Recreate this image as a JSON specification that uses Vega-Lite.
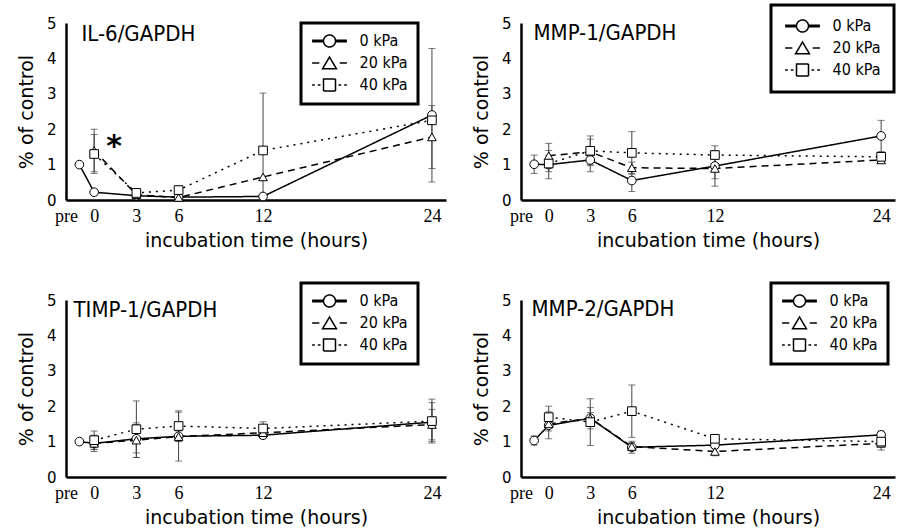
{
  "$schema": "https://vega.github.io/schema/vega-lite/v6.json",
  "background": "white",
  "padding": {"left": 17, "top": 3, "right": 0, "bottom": 0},
  "datasets": {
    "d": [
      {"panel": "IL-6/GAPDH", "series": "0 kPa", "t": -1.05, "mean": 1.0, "lo": 1.0, "hi": 1.0},
      {"panel": "IL-6/GAPDH", "series": "0 kPa", "t": 0, "mean": 0.22, "lo": 0.22, "hi": 0.22},
      {"panel": "IL-6/GAPDH", "series": "0 kPa", "t": 3, "mean": 0.12, "lo": 0.12, "hi": 0.12},
      {"panel": "IL-6/GAPDH", "series": "0 kPa", "t": 6, "mean": 0.08, "lo": 0.08, "hi": 0.08},
      {"panel": "IL-6/GAPDH", "series": "0 kPa", "t": 12, "mean": 0.1, "lo": 0.1, "hi": 0.1},
      {"panel": "IL-6/GAPDH", "series": "0 kPa", "t": 24, "mean": 2.4, "lo": 0.51, "hi": 4.28},
      {"panel": "IL-6/GAPDH", "series": "20 kPa", "t": 0, "mean": 1.4, "lo": 0.8, "hi": 2.0},
      {"panel": "IL-6/GAPDH", "series": "20 kPa", "t": 3, "mean": 0.15, "lo": 0.15, "hi": 0.15},
      {"panel": "IL-6/GAPDH", "series": "20 kPa", "t": 6, "mean": 0.07, "lo": 0.07, "hi": 0.07},
      {"panel": "IL-6/GAPDH", "series": "20 kPa", "t": 12, "mean": 0.65, "lo": 0.65, "hi": 0.65},
      {"panel": "IL-6/GAPDH", "series": "20 kPa", "t": 24, "mean": 1.78, "lo": 0.89, "hi": 2.67},
      {"panel": "IL-6/GAPDH", "series": "40 kPa", "t": 0, "mean": 1.3, "lo": 0.75, "hi": 1.85},
      {"panel": "IL-6/GAPDH", "series": "40 kPa", "t": 3, "mean": 0.2, "lo": 0.2, "hi": 0.2},
      {"panel": "IL-6/GAPDH", "series": "40 kPa", "t": 6, "mean": 0.28, "lo": 0.17, "hi": 0.39},
      {"panel": "IL-6/GAPDH", "series": "40 kPa", "t": 12, "mean": 1.4, "lo": 0.0, "hi": 3.02},
      {"panel": "IL-6/GAPDH", "series": "40 kPa", "t": 24, "mean": 2.25, "lo": 2.25, "hi": 2.25},

      {"panel": "MMP-1/GAPDH", "series": "0 kPa", "t": -1.05, "mean": 1.01, "lo": 0.75, "hi": 1.27},
      {"panel": "MMP-1/GAPDH", "series": "0 kPa", "t": 0, "mean": 1.0, "lo": 0.6, "hi": 1.4},
      {"panel": "MMP-1/GAPDH", "series": "0 kPa", "t": 3, "mean": 1.13, "lo": 0.8, "hi": 1.46},
      {"panel": "MMP-1/GAPDH", "series": "0 kPa", "t": 6, "mean": 0.55, "lo": 0.24, "hi": 0.86},
      {"panel": "MMP-1/GAPDH", "series": "0 kPa", "t": 12, "mean": 0.96, "lo": 0.6, "hi": 1.32},
      {"panel": "MMP-1/GAPDH", "series": "0 kPa", "t": 24, "mean": 1.81, "lo": 1.37, "hi": 2.25},
      {"panel": "MMP-1/GAPDH", "series": "20 kPa", "t": 0, "mean": 1.25, "lo": 0.9, "hi": 1.6},
      {"panel": "MMP-1/GAPDH", "series": "20 kPa", "t": 3, "mean": 1.36, "lo": 1.0, "hi": 1.72},
      {"panel": "MMP-1/GAPDH", "series": "20 kPa", "t": 6, "mean": 0.91, "lo": 0.75, "hi": 1.07},
      {"panel": "MMP-1/GAPDH", "series": "20 kPa", "t": 12, "mean": 0.89, "lo": 0.39, "hi": 1.39},
      {"panel": "MMP-1/GAPDH", "series": "20 kPa", "t": 24, "mean": 1.13, "lo": 1.06, "hi": 1.2},
      {"panel": "MMP-1/GAPDH", "series": "40 kPa", "t": 0, "mean": 1.03, "lo": 0.8, "hi": 1.26},
      {"panel": "MMP-1/GAPDH", "series": "40 kPa", "t": 3, "mean": 1.39, "lo": 0.97, "hi": 1.81},
      {"panel": "MMP-1/GAPDH", "series": "40 kPa", "t": 6, "mean": 1.33, "lo": 0.73, "hi": 1.93},
      {"panel": "MMP-1/GAPDH", "series": "40 kPa", "t": 12, "mean": 1.27, "lo": 1.01, "hi": 1.53},
      {"panel": "MMP-1/GAPDH", "series": "40 kPa", "t": 24, "mean": 1.22, "lo": 1.1, "hi": 1.34},

      {"panel": "TIMP-1/GAPDH", "series": "0 kPa", "t": -1.05, "mean": 1.0, "lo": 1.0, "hi": 1.0},
      {"panel": "TIMP-1/GAPDH", "series": "0 kPa", "t": 0, "mean": 0.95, "lo": 0.78, "hi": 1.12},
      {"panel": "TIMP-1/GAPDH", "series": "0 kPa", "t": 3, "mean": 1.08, "lo": 0.68, "hi": 1.48},
      {"panel": "TIMP-1/GAPDH", "series": "0 kPa", "t": 6, "mean": 1.15, "lo": 1.0, "hi": 1.3},
      {"panel": "TIMP-1/GAPDH", "series": "0 kPa", "t": 12, "mean": 1.18, "lo": 1.1, "hi": 1.26},
      {"panel": "TIMP-1/GAPDH", "series": "0 kPa", "t": 24, "mean": 1.55, "lo": 1.0, "hi": 2.1},
      {"panel": "TIMP-1/GAPDH", "series": "20 kPa", "t": 0, "mean": 0.95, "lo": 0.72, "hi": 1.18},
      {"panel": "TIMP-1/GAPDH", "series": "20 kPa", "t": 3, "mean": 1.04, "lo": 0.55, "hi": 1.53},
      {"panel": "TIMP-1/GAPDH", "series": "20 kPa", "t": 6, "mean": 1.14, "lo": 0.45, "hi": 1.83},
      {"panel": "TIMP-1/GAPDH", "series": "20 kPa", "t": 12, "mean": 1.25, "lo": 1.15, "hi": 1.35},
      {"panel": "TIMP-1/GAPDH", "series": "20 kPa", "t": 24, "mean": 1.48, "lo": 1.05, "hi": 1.91},
      {"panel": "TIMP-1/GAPDH", "series": "40 kPa", "t": 0, "mean": 1.04, "lo": 0.78, "hi": 1.3},
      {"panel": "TIMP-1/GAPDH", "series": "40 kPa", "t": 3, "mean": 1.35, "lo": 0.55, "hi": 2.15},
      {"panel": "TIMP-1/GAPDH", "series": "40 kPa", "t": 6, "mean": 1.44, "lo": 1.01, "hi": 1.87},
      {"panel": "TIMP-1/GAPDH", "series": "40 kPa", "t": 12, "mean": 1.37, "lo": 1.18, "hi": 1.56},
      {"panel": "TIMP-1/GAPDH", "series": "40 kPa", "t": 24, "mean": 1.58, "lo": 0.96, "hi": 2.2},

      {"panel": "MMP-2/GAPDH", "series": "0 kPa", "t": -1.05, "mean": 1.03, "lo": 0.9, "hi": 1.16},
      {"panel": "MMP-2/GAPDH", "series": "0 kPa", "t": 0, "mean": 1.46, "lo": 1.08, "hi": 1.84},
      {"panel": "MMP-2/GAPDH", "series": "0 kPa", "t": 3, "mean": 1.66, "lo": 1.36, "hi": 1.96},
      {"panel": "MMP-2/GAPDH", "series": "0 kPa", "t": 6, "mean": 0.84, "lo": 0.67, "hi": 1.01},
      {"panel": "MMP-2/GAPDH", "series": "0 kPa", "t": 12, "mean": 0.9, "lo": 0.8, "hi": 1.0},
      {"panel": "MMP-2/GAPDH", "series": "0 kPa", "t": 24, "mean": 1.19, "lo": 1.08, "hi": 1.3},
      {"panel": "MMP-2/GAPDH", "series": "20 kPa", "t": 0, "mean": 1.5, "lo": 1.3, "hi": 1.7},
      {"panel": "MMP-2/GAPDH", "series": "20 kPa", "t": 3, "mean": 1.66, "lo": 1.5, "hi": 1.82},
      {"panel": "MMP-2/GAPDH", "series": "20 kPa", "t": 6, "mean": 0.86, "lo": 0.75, "hi": 0.97},
      {"panel": "MMP-2/GAPDH", "series": "20 kPa", "t": 12, "mean": 0.72, "lo": 0.6, "hi": 0.84},
      {"panel": "MMP-2/GAPDH", "series": "20 kPa", "t": 24, "mean": 0.95, "lo": 0.85, "hi": 1.05},
      {"panel": "MMP-2/GAPDH", "series": "40 kPa", "t": 0, "mean": 1.69, "lo": 1.38, "hi": 2.0},
      {"panel": "MMP-2/GAPDH", "series": "40 kPa", "t": 3, "mean": 1.55, "lo": 0.89, "hi": 2.21},
      {"panel": "MMP-2/GAPDH", "series": "40 kPa", "t": 6, "mean": 1.86, "lo": 1.12, "hi": 2.6},
      {"panel": "MMP-2/GAPDH", "series": "40 kPa", "t": 12, "mean": 1.08, "lo": 1.0, "hi": 1.16},
      {"panel": "MMP-2/GAPDH", "series": "40 kPa", "t": 24, "mean": 1.0, "lo": 0.76, "hi": 1.24}
    ],
    "star": [
      {"panel": "IL-6/GAPDH", "t": 1.41, "y": 1.5, "label": "*"}
    ]
  },
  "config": {
    "view": {"stroke": null},
    "axis": {"ticks": false, "grid": false, "labelOverlap": false, "domainColor": "black", "domainWidth": 2.5, "labelColor": "black", "titleColor": "black", "titleFont": "DejaVu Sans", "titleFontSize": 19, "titleFontWeight": "normal"},
    "axisX": {"labelFont": "Liberation Serif", "labelFontSize": 18, "labelPadding": 7, "titlePadding": 6, "labelFlush": false},
    "axisY": {"labelFont": "DejaVu Sans", "labelFontSize": 15, "labelPadding": 10, "titlePadding": 10, "tickCount": 6},
    "legend": {"symbolSize": 144, "symbolStrokeWidth": 1.5, "symbolStrokeColor": "black", "symbolFillColor": "white", "labelFont": "DejaVu Sans Condensed", "labelFontSize": 16, "labelColor": "black", "padding": 10, "rowPadding": 4, "fillColor": "white", "strokeColor": "black", "symbolOffset": 10.5, "labelOffset": 22}
  },
  "columns": 2,
  "spacing": {"row": 31, "column": 26},
  "resolve": {"scale": {"x": "independent", "y": "independent", "strokeDash": "independent", "shape": "independent", "strokeWidth": "independent"}, "legend": {"strokeWidth": "independent"}},
  "concat": [
    {
      "width": 380, "height": 177,
      "resolve": {"axis": {"x": "independent"}},
      "layer": [
        {"data": {"name": "d"}, "transform": [{"filter": "datum.panel === 'IL-6/GAPDH'"}],
         "mark": {"type": "line", "color": "black"},
         "encoding": {
           "x": {"field": "t", "type": "quantitative", "title": "incubation time (hours)", "scale": {"domain": [-2, 25], "nice": false, "zero": false}, "axis": {"values": [-2, 0, 3, 6, 12, 24], "labelExpr": "datum.value == -2 ? 'pre' : datum.label"}},
           "y": {"field": "mean", "type": "quantitative", "title": "% of control", "scale": {"domain": [0, 5], "nice": false}, "axis": {"values": [0, 1, 2, 3, 4, 5], "tickCount": 6, "labelOverlap": false}},
           "strokeDash": {"field": "series", "type": "nominal", "scale": {"range": [[1, 0], [7, 5], [2, 5]]}, "legend": null},
           "strokeWidth": {"field": "series", "type": "ordinal", "scale": {"domain": ["0 kPa", "20 kPa", "40 kPa"], "range": [1.5, 1.5, 1.5]},
             "legend": {"title": null, "orient": "none", "legendX": 235, "legendY": 0,
               "labelExpr": "datum.label === '0 kPa' ? '\u2007' + datum.label : datum.label",
               "encode": {
                 "legend": {"update": {"strokeWidth": {"value": 3}}},
                 "symbols": {"update": {
                   "shape": {"signal": "datum.value === '0 kPa' ? 'M-2.9,-0.12L-1,-0.12M-2.9,0.12L-1,0.12M1,-0.12L2.9,-0.12M1,0.12L2.9,0.12M1,0A1,1,0,1,1,-1,0A1,1,0,1,1,1,0Z' : datum.value === '20 kPa' ? 'M-2.9,0L-1.7,0M1.7,0L2.9,0M0,-1L1.15,0.95L-1.15,0.95Z' : 'M-2.9,0L-2.45,0M-1.95,0L-1.5,0M1.5,0L1.95,0M2.45,0L2.9,0M-1,-1L1,-1L1,1L-1,1Z'"},
                   "strokeDash": {"value": [1, 0]},
                   "fill": {"value": "white"},
                   "stroke": {"value": "black"},
                   "opacity": {"value": 1}
                 }}
               }}}
         }},
        {"data": {"name": "d"}, "transform": [{"filter": "datum.panel === 'IL-6/GAPDH' && datum.hi > datum.lo"}],
         "mark": {"type": "errorbar", "ticks": {"size": 7, "color": "#444"}, "rule": {"color": "#444", "strokeWidth": 1}},
         "encoding": {
           "x": {"field": "t", "type": "quantitative", "axis": null},
           "y": {"field": "lo", "type": "quantitative", "title": "% of control", "axis": {"values": [0, 1, 2, 3, 4, 5], "tickCount": 6, "labelOverlap": false}},
           "y2": {"field": "hi"}
         }},
        {"data": {"name": "d"}, "transform": [{"filter": "datum.panel === 'IL-6/GAPDH'"}],
         "mark": {"type": "point", "filled": true, "fill": "white", "stroke": "black", "strokeWidth": 1, "size": 75, "opacity": 1},
         "encoding": {
           "x": {"field": "t", "type": "quantitative", "axis": {"orient": "top", "title": "IL-6/GAPDH", "titleX": 15, "titleY": 0, "titleAlign": "left", "titleBaseline": "top", "titleAngle": 0, "titleFont": "DejaVu Sans Condensed", "titleFontSize": 22, "labels": false, "domain": false, "ticks": false, "grid": false}},
           "y": {"field": "mean", "type": "quantitative", "title": "% of control", "axis": {"values": [0, 1, 2, 3, 4, 5], "tickCount": 6, "labelOverlap": false}},
           "shape": {"field": "series", "type": "nominal", "scale": {"range": ["circle", "triangle-up", "square"]}, "legend": null}
         }},
        {"data": {"name": "star"},
         "mark": {"type": "text", "font": "DejaVu Sans", "fontWeight": "bold", "fontSize": 30, "baseline": "middle", "color": "black"},
         "encoding": {
           "x": {"field": "t", "type": "quantitative", "axis": null},
           "y": {"field": "y", "type": "quantitative", "title": "% of control", "axis": {"values": [0, 1, 2, 3, 4, 5], "tickCount": 6, "labelOverlap": false}},
           "text": {"field": "label"}
         }}
      ]
    },
    {
      "width": 374, "height": 177,
      "resolve": {"axis": {"x": "independent"}},
      "layer": [
        {"data": {"name": "d"}, "transform": [{"filter": "datum.panel === 'MMP-1/GAPDH'"}],
         "mark": {"type": "line", "color": "black"},
         "encoding": {
           "x": {"field": "t", "type": "quantitative", "title": "incubation time (hours)", "scale": {"domain": [-2, 25], "nice": false, "zero": false}, "axis": {"values": [-2, 0, 3, 6, 12, 24], "labelExpr": "datum.value == -2 ? 'pre' : datum.label"}},
           "y": {"field": "mean", "type": "quantitative", "title": "% of control", "scale": {"domain": [0, 5], "nice": false}, "axis": {"values": [0, 1, 2, 3, 4, 5], "tickCount": 6, "labelOverlap": false}},
           "strokeDash": {"field": "series", "type": "nominal", "scale": {"range": [[1, 0], [7, 5], [2, 5]]}, "legend": null},
           "strokeWidth": {"field": "series", "type": "ordinal", "scale": {"domain": ["0 kPa", "20 kPa", "40 kPa"], "range": [1.5, 1.5, 1.5]},
             "legend": {"title": null, "orient": "none", "legendX": 250, "legendY": -18, "padding": 13,
               "labelExpr": "datum.label === '0 kPa' ? '\u2007' + datum.label : datum.label",
               "encode": {
                 "legend": {"update": {"strokeWidth": {"value": 3}}},
                 "symbols": {"update": {
                   "shape": {"signal": "datum.value === '0 kPa' ? 'M-2.9,-0.12L-1,-0.12M-2.9,0.12L-1,0.12M1,-0.12L2.9,-0.12M1,0.12L2.9,0.12M1,0A1,1,0,1,1,-1,0A1,1,0,1,1,1,0Z' : datum.value === '20 kPa' ? 'M-2.9,0L-1.7,0M1.7,0L2.9,0M0,-1L1.15,0.95L-1.15,0.95Z' : 'M-2.9,0L-2.45,0M-1.95,0L-1.5,0M1.5,0L1.95,0M2.45,0L2.9,0M-1,-1L1,-1L1,1L-1,1Z'"},
                   "strokeDash": {"value": [1, 0]},
                   "fill": {"value": "white"},
                   "stroke": {"value": "black"},
                   "opacity": {"value": 1}
                 }}
               }}}
         }},
        {"data": {"name": "d"}, "transform": [{"filter": "datum.panel === 'MMP-1/GAPDH' && datum.hi > datum.lo"}],
         "mark": {"type": "errorbar", "ticks": {"size": 7, "color": "#444"}, "rule": {"color": "#444", "strokeWidth": 1}},
         "encoding": {
           "x": {"field": "t", "type": "quantitative", "axis": null},
           "y": {"field": "lo", "type": "quantitative", "title": "% of control", "axis": {"values": [0, 1, 2, 3, 4, 5], "tickCount": 6, "labelOverlap": false}},
           "y2": {"field": "hi"}
         }},
        {"data": {"name": "d"}, "transform": [{"filter": "datum.panel === 'MMP-1/GAPDH'"}],
         "mark": {"type": "point", "filled": true, "fill": "white", "stroke": "black", "strokeWidth": 1, "size": 75, "opacity": 1},
         "encoding": {
           "x": {"field": "t", "type": "quantitative", "axis": {"orient": "top", "title": "MMP-1/GAPDH", "titleX": 12, "titleY": -1, "titleAlign": "left", "titleBaseline": "top", "titleAngle": 0, "titleFont": "DejaVu Sans Condensed", "titleFontSize": 22, "labels": false, "domain": false, "ticks": false, "grid": false}},
           "y": {"field": "mean", "type": "quantitative", "title": "% of control", "axis": {"values": [0, 1, 2, 3, 4, 5], "tickCount": 6, "labelOverlap": false}},
           "shape": {"field": "series", "type": "nominal", "scale": {"range": ["circle", "triangle-up", "square"]}, "legend": null}
         }}
      ]
    },
    {
      "width": 380, "height": 177,
      "resolve": {"axis": {"x": "independent"}},
      "layer": [
        {"data": {"name": "d"}, "transform": [{"filter": "datum.panel === 'TIMP-1/GAPDH'"}],
         "mark": {"type": "line", "color": "black"},
         "encoding": {
           "x": {"field": "t", "type": "quantitative", "title": "incubation time (hours)", "scale": {"domain": [-2, 25], "nice": false, "zero": false}, "axis": {"values": [-2, 0, 3, 6, 12, 24], "labelExpr": "datum.value == -2 ? 'pre' : datum.label"}},
           "y": {"field": "mean", "type": "quantitative", "title": "% of control", "scale": {"domain": [0, 5], "nice": false}, "axis": {"values": [0, 1, 2, 3, 4, 5], "tickCount": 6, "labelOverlap": false}},
           "strokeDash": {"field": "series", "type": "nominal", "scale": {"range": [[1, 0], [7, 5], [2, 5]]}, "legend": null},
           "strokeWidth": {"field": "series", "type": "ordinal", "scale": {"domain": ["0 kPa", "20 kPa", "40 kPa"], "range": [1.5, 1.5, 1.5]},
             "legend": {"title": null, "orient": "none", "legendX": 235, "legendY": -17,
               "labelExpr": "datum.label === '0 kPa' ? '\u2007' + datum.label : datum.label",
               "encode": {
                 "legend": {"update": {"strokeWidth": {"value": 3}}},
                 "symbols": {"update": {
                   "shape": {"signal": "datum.value === '0 kPa' ? 'M-2.9,-0.12L-1,-0.12M-2.9,0.12L-1,0.12M1,-0.12L2.9,-0.12M1,0.12L2.9,0.12M1,0A1,1,0,1,1,-1,0A1,1,0,1,1,1,0Z' : datum.value === '20 kPa' ? 'M-2.9,0L-1.7,0M1.7,0L2.9,0M0,-1L1.15,0.95L-1.15,0.95Z' : 'M-2.9,0L-2.45,0M-1.95,0L-1.5,0M1.5,0L1.95,0M2.45,0L2.9,0M-1,-1L1,-1L1,1L-1,1Z'"},
                   "strokeDash": {"value": [1, 0]},
                   "fill": {"value": "white"},
                   "stroke": {"value": "black"},
                   "opacity": {"value": 1}
                 }}
               }}}
         }},
        {"data": {"name": "d"}, "transform": [{"filter": "datum.panel === 'TIMP-1/GAPDH' && datum.hi > datum.lo"}],
         "mark": {"type": "errorbar", "ticks": {"size": 7, "color": "#444"}, "rule": {"color": "#444", "strokeWidth": 1}},
         "encoding": {
           "x": {"field": "t", "type": "quantitative", "axis": null},
           "y": {"field": "lo", "type": "quantitative", "title": "% of control", "axis": {"values": [0, 1, 2, 3, 4, 5], "tickCount": 6, "labelOverlap": false}},
           "y2": {"field": "hi"}
         }},
        {"data": {"name": "d"}, "transform": [{"filter": "datum.panel === 'TIMP-1/GAPDH'"}],
         "mark": {"type": "point", "filled": true, "fill": "white", "stroke": "black", "strokeWidth": 1, "size": 75, "opacity": 1},
         "encoding": {
           "x": {"field": "t", "type": "quantitative", "axis": {"orient": "top", "title": "TIMP-1/GAPDH", "titleX": 7, "titleY": -1, "titleAlign": "left", "titleBaseline": "top", "titleAngle": 0, "titleFont": "DejaVu Sans Condensed", "titleFontSize": 22, "labels": false, "domain": false, "ticks": false, "grid": false}},
           "y": {"field": "mean", "type": "quantitative", "title": "% of control", "axis": {"values": [0, 1, 2, 3, 4, 5], "tickCount": 6, "labelOverlap": false}},
           "shape": {"field": "series", "type": "nominal", "scale": {"range": ["circle", "triangle-up", "square"]}, "legend": null}
         }}
      ]
    },
    {
      "width": 374, "height": 177,
      "resolve": {"axis": {"x": "independent"}},
      "layer": [
        {"data": {"name": "d"}, "transform": [{"filter": "datum.panel === 'MMP-2/GAPDH'"}],
         "mark": {"type": "line", "color": "black"},
         "encoding": {
           "x": {"field": "t", "type": "quantitative", "title": "incubation time (hours)", "scale": {"domain": [-2, 25], "nice": false, "zero": false}, "axis": {"values": [-2, 0, 3, 6, 12, 24], "labelExpr": "datum.value == -2 ? 'pre' : datum.label"}},
           "y": {"field": "mean", "type": "quantitative", "title": "% of control", "scale": {"domain": [0, 5], "nice": false}, "axis": {"values": [0, 1, 2, 3, 4, 5], "tickCount": 6, "labelOverlap": false}},
           "strokeDash": {"field": "series", "type": "nominal", "scale": {"range": [[1, 0], [7, 5], [2, 5]]}, "legend": null},
           "strokeWidth": {"field": "series", "type": "ordinal", "scale": {"domain": ["0 kPa", "20 kPa", "40 kPa"], "range": [1.5, 1.5, 1.5]},
             "legend": {"title": null, "orient": "none", "legendX": 250, "legendY": -17,
               "labelExpr": "datum.label === '0 kPa' ? '\u2007' + datum.label : datum.label",
               "encode": {
                 "legend": {"update": {"strokeWidth": {"value": 3}}},
                 "symbols": {"update": {
                   "shape": {"signal": "datum.value === '0 kPa' ? 'M-2.9,-0.12L-1,-0.12M-2.9,0.12L-1,0.12M1,-0.12L2.9,-0.12M1,0.12L2.9,0.12M1,0A1,1,0,1,1,-1,0A1,1,0,1,1,1,0Z' : datum.value === '20 kPa' ? 'M-2.9,0L-1.7,0M1.7,0L2.9,0M0,-1L1.15,0.95L-1.15,0.95Z' : 'M-2.9,0L-2.45,0M-1.95,0L-1.5,0M1.5,0L1.95,0M2.45,0L2.9,0M-1,-1L1,-1L1,1L-1,1Z'"},
                   "strokeDash": {"value": [1, 0]},
                   "fill": {"value": "white"},
                   "stroke": {"value": "black"},
                   "opacity": {"value": 1}
                 }}
               }}}
         }},
        {"data": {"name": "d"}, "transform": [{"filter": "datum.panel === 'MMP-2/GAPDH' && datum.hi > datum.lo"}],
         "mark": {"type": "errorbar", "ticks": {"size": 7, "color": "#444"}, "rule": {"color": "#444", "strokeWidth": 1}},
         "encoding": {
           "x": {"field": "t", "type": "quantitative", "axis": null},
           "y": {"field": "lo", "type": "quantitative", "title": "% of control", "axis": {"values": [0, 1, 2, 3, 4, 5], "tickCount": 6, "labelOverlap": false}},
           "y2": {"field": "hi"}
         }},
        {"data": {"name": "d"}, "transform": [{"filter": "datum.panel === 'MMP-2/GAPDH'"}],
         "mark": {"type": "point", "filled": true, "fill": "white", "stroke": "black", "strokeWidth": 1, "size": 75, "opacity": 1},
         "encoding": {
           "x": {"field": "t", "type": "quantitative", "axis": {"orient": "top", "title": "MMP-2/GAPDH", "titleX": 10, "titleY": -2, "titleAlign": "left", "titleBaseline": "top", "titleAngle": 0, "titleFont": "DejaVu Sans Condensed", "titleFontSize": 22, "labels": false, "domain": false, "ticks": false, "grid": false}},
           "y": {"field": "mean", "type": "quantitative", "title": "% of control", "axis": {"values": [0, 1, 2, 3, 4, 5], "tickCount": 6, "labelOverlap": false}},
           "shape": {"field": "series", "type": "nominal", "scale": {"range": ["circle", "triangle-up", "square"]}, "legend": null}
         }}
      ]
    }
  ]
}
